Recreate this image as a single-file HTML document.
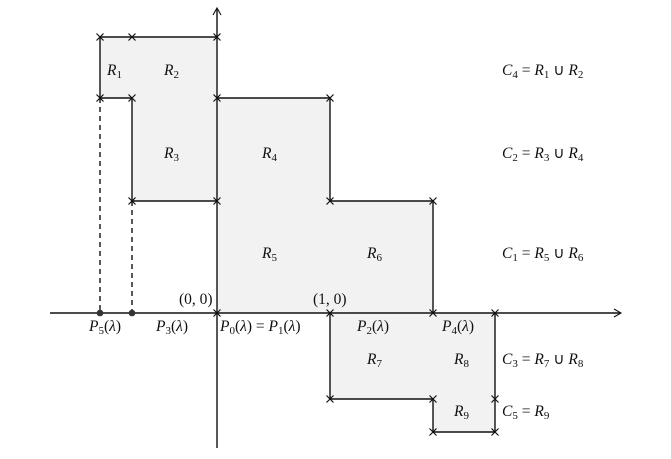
<!DOCTYPE html>
<html><head><meta charset="utf-8"><style>
html,body{margin:0;padding:0;background:#fff;}
svg{display:block;}
text{font-family:"Liberation Serif",serif;font-size:15.5px;fill:#111;}
.i{font-style:italic;}
.s{font-style:normal;font-size:11px;}
</style></head><body>
<svg width="671" height="459" viewBox="0 0 671 459" xmlns="http://www.w3.org/2000/svg">
<defs>
<g id="x"><path d="M-3.5,-3.5L3.5,3.5M-3.5,3.5L3.5,-3.5" stroke="#111" stroke-width="1.2"/></g>
</defs>
<g fill="#f2f2f2" stroke="none">
<polygon points="100,37 217,37 217,201 132,201 132,98 100,98"/>
<polygon points="217,98 330,98 330,201 433,201 433,313 217,313"/>
<polygon points="330,313 495,313 495,432 433,432 433,399 330,399"/>
</g>
<g stroke="#111" stroke-width="1.4" fill="none">
<polyline points="217,37 100,37 100,98 132,98 132,201 217,201"/>
<polyline points="217,98 330,98 330,201 433,201 433,313"/>
<polyline points="330,313 330,399 433,399 433,432 495,432 495,313"/>
<line x1="100" y1="98" x2="100" y2="313" stroke-dasharray="5,4"/>
<line x1="132" y1="201" x2="132" y2="313" stroke-dasharray="5,4"/>
<line x1="50" y1="313" x2="620" y2="313"/>
<line x1="217" y1="448" x2="217" y2="9"/>
<path d="M614,309 L621,313 L614,317" stroke-width="1.1"/>
<path d="M213,15 L217,8 L221,15" stroke-width="1.1"/>
</g>
<circle cx="100" cy="313" r="3.3" fill="#333"/>
<circle cx="132" cy="313" r="3.3" fill="#333"/>
<g>
<use href="#x" x="100" y="37"/><use href="#x" x="132" y="37"/><use href="#x" x="217" y="37"/>
<use href="#x" x="100" y="98"/><use href="#x" x="132" y="98"/><use href="#x" x="217" y="98"/><use href="#x" x="330" y="98"/>
<use href="#x" x="132" y="201"/><use href="#x" x="217" y="201"/><use href="#x" x="330" y="201"/><use href="#x" x="433" y="201"/>
<use href="#x" x="217" y="313"/><use href="#x" x="330" y="313"/><use href="#x" x="433" y="313"/><use href="#x" x="495" y="313"/>
<use href="#x" x="330" y="399"/><use href="#x" x="433" y="399"/><use href="#x" x="495" y="399"/>
<use href="#x" x="433" y="432"/><use href="#x" x="495" y="432"/>
</g>
<text x="107" y="75"><tspan class="i">R</tspan><tspan class="s" dy="3">1</tspan></text>
<text x="164" y="75"><tspan class="i">R</tspan><tspan class="s" dy="3">2</tspan></text>
<text x="164" y="158"><tspan class="i">R</tspan><tspan class="s" dy="3">3</tspan></text>
<text x="262" y="158"><tspan class="i">R</tspan><tspan class="s" dy="3">4</tspan></text>
<text x="262" y="258"><tspan class="i">R</tspan><tspan class="s" dy="3">5</tspan></text>
<text x="367" y="258"><tspan class="i">R</tspan><tspan class="s" dy="3">6</tspan></text>
<text x="367" y="364"><tspan class="i">R</tspan><tspan class="s" dy="3">7</tspan></text>
<text x="454" y="364"><tspan class="i">R</tspan><tspan class="s" dy="3">8</tspan></text>
<text x="454" y="416"><tspan class="i">R</tspan><tspan class="s" dy="3">9</tspan></text>
<text x="179" y="304">(0, 0)</text>
<text x="313" y="304">(1, 0)</text>
<text x="89" y="331"><tspan class="i">P</tspan><tspan class="s" dy="3">5</tspan><tspan dy="-3">(</tspan><tspan class="i">λ</tspan>)</text>
<text x="156" y="331"><tspan class="i">P</tspan><tspan class="s" dy="3">3</tspan><tspan dy="-3">(</tspan><tspan class="i">λ</tspan>)</text>
<text x="220" y="331"><tspan class="i">P</tspan><tspan class="s" dy="3">0</tspan><tspan dy="-3">(</tspan><tspan class="i">λ</tspan>) = <tspan class="i">P</tspan><tspan class="s" dy="3">1</tspan><tspan dy="-3">(</tspan><tspan class="i">λ</tspan>)</text>
<text x="357" y="331"><tspan class="i">P</tspan><tspan class="s" dy="3">2</tspan><tspan dy="-3">(</tspan><tspan class="i">λ</tspan>)</text>
<text x="442" y="331"><tspan class="i">P</tspan><tspan class="s" dy="3">4</tspan><tspan dy="-3">(</tspan><tspan class="i">λ</tspan>)</text>
<text x="502" y="75"><tspan class="i">C</tspan><tspan class="s" dy="3">4</tspan><tspan dy="-3"> = </tspan><tspan class="i">R</tspan><tspan class="s" dy="3">1</tspan><tspan dy="-3"> ∪ </tspan><tspan class="i">R</tspan><tspan class="s" dy="3">2</tspan></text>
<text x="502" y="158"><tspan class="i">C</tspan><tspan class="s" dy="3">2</tspan><tspan dy="-3"> = </tspan><tspan class="i">R</tspan><tspan class="s" dy="3">3</tspan><tspan dy="-3"> ∪ </tspan><tspan class="i">R</tspan><tspan class="s" dy="3">4</tspan></text>
<text x="502" y="258"><tspan class="i">C</tspan><tspan class="s" dy="3">1</tspan><tspan dy="-3"> = </tspan><tspan class="i">R</tspan><tspan class="s" dy="3">5</tspan><tspan dy="-3"> ∪ </tspan><tspan class="i">R</tspan><tspan class="s" dy="3">6</tspan></text>
<text x="502" y="364"><tspan class="i">C</tspan><tspan class="s" dy="3">3</tspan><tspan dy="-3"> = </tspan><tspan class="i">R</tspan><tspan class="s" dy="3">7</tspan><tspan dy="-3"> ∪ </tspan><tspan class="i">R</tspan><tspan class="s" dy="3">8</tspan></text>
<text x="502" y="416"><tspan class="i">C</tspan><tspan class="s" dy="3">5</tspan><tspan dy="-3"> = </tspan><tspan class="i">R</tspan><tspan class="s" dy="3">9</tspan></text>
</svg>
</body></html>
